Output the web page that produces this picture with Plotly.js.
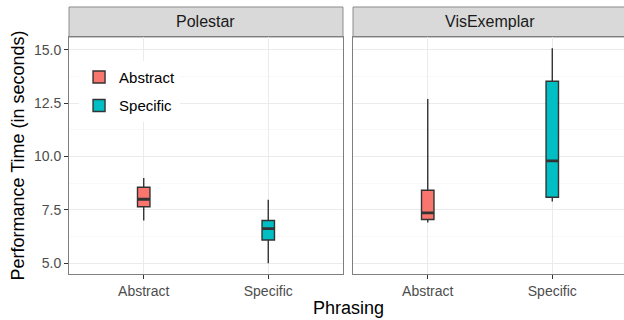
<!DOCTYPE html>
<html><head><meta charset="utf-8">
<script src="https://cdn.plot.ly/plotly-3.0.1.min.js"></script>
<style>html,body{margin:0;padding:0;background:#fff;overflow:hidden}</style>
</head><body>
<div id="chart" style="width:628px;height:320px"></div>
<script>
const panels = ['Polestar', 'VisExemplar'];
const phrasings = ['Abstract', 'Specific'];
const fillColors = ['#F8766D', '#00BFC4'];

// Polestar: [Abstract, Specific]
const polestarLow    = [7.00, 5.00];
const polestarQ1     = [7.65, 6.09];
const polestarMedian = [8.00, 6.62];
const polestarQ3     = [8.56, 7.00];
const polestarHigh   = [9.00, 7.97];

// VisExemplar: [Abstract, Specific]
const visLow    = [6.91, 7.89];
const visQ1     = [7.05, 8.09];
const visMedian = [7.36, 9.80];
const visQ3     = [8.42, 13.53];
const visHigh   = [12.70, 15.08];

const yTicks = [5.0, 7.5, 10.0, 12.5, 15.0];

const panelData = [
  {low: polestarLow, q1: polestarQ1, med: polestarMedian, q3: polestarQ3, high: polestarHigh},
  {low: visLow, q1: visQ1, med: visMedian, q3: visQ3, high: visHigh}
];

const traces = [];
panelData.forEach((d, p) => {
  const xa = p === 0 ? 'x' : 'x2';
  const ya = p === 0 ? 'y' : 'y2';
  phrasings.forEach((ph, i) => {
    traces.push({
      type: 'box', name: ph, legendgroup: ph, showlegend: p === 0,
      x: [ph], q1: [d.q1[i]], median: [d.med[i]], q3: [d.q3[i]],
      lowerfence: [d.low[i]], upperfence: [d.high[i]],
      xaxis: xa, yaxis: ya, width: 0.1, whiskerwidth: 0,
      fillcolor: fillColors[i], line: {color: '#333333', width: 1.4},
      hoverinfo: 'y'
    });
    // thick median line (ggplot fatten)
    traces.push({
      type: 'box', name: ph, legendgroup: ph, showlegend: false,
      x: [ph], q1: [d.med[i]], median: [d.med[i]], q3: [d.med[i]],
      lowerfence: [d.med[i]], upperfence: [d.med[i]],
      xaxis: xa, yaxis: ya, width: 0.1, whiskerwidth: 0,
      fillcolor: 'rgba(0,0,0,0)', line: {color: '#333333', width: 2.8},
      hoverinfo: 'skip'
    });
  });
});

const font = {family: '"Liberation Sans", Arial, sans-serif'};
const xCommon = {
  type: 'category', categoryorder: 'array', categoryarray: phrasings,
  range: [-0.6, 1.6], showgrid: true, gridcolor: '#EBEBEB', gridwidth: 1,
  zeroline: false, showline: true, linecolor: '#7F7F7F', linewidth: 1, mirror: true,
  ticks: 'outside', ticklen: 4, tickcolor: '#333333', tickwidth: 1,
  tickfont: {family: font.family, size: 14, color: '#4D4D4D'}, fixedrange: true
};
const yCommon = {
  range: [4.495, 15.605], tickvals: yTicks, tickformat: '.1f',
  showgrid: true, gridcolor: '#EBEBEB', gridwidth: 1,
  minor: {dtick: 1.25, tick0: 5, showgrid: true, gridcolor: '#F3F3F3', gridwidth: 0.6, ticks: ''},
  zeroline: false, showline: true, linecolor: '#7F7F7F', linewidth: 1, mirror: true,
  ticks: 'outside', ticklen: 4, tickcolor: '#333333', tickwidth: 1,
  tickfont: {family: font.family, size: 14, color: '#4D4D4D'}, fixedrange: true
};

const dom1 = [0, 0.491];
const dom2 = [0.509, 1];
const stripTop = 1.1266;

const layout = {
  width: 628, height: 320,
  margin: {l: 69, r: 1, t: 37, b: 46},
  paper_bgcolor: '#ffffff', plot_bgcolor: '#ffffff',
  font: font,
  boxmode: 'overlay',
  showlegend: true,
  legend: {
    x: 0.018, y: 0.9, xanchor: 'left', yanchor: 'top',
    bgcolor: 'rgba(255,255,255,1)', borderwidth: 0,
    font: {family: font.family, size: 15, color: '#000000'},
    tracegroupgap: 6, itemwidth: 30
  },
  xaxis: Object.assign({}, xCommon, {domain: dom1, anchor: 'y'}),
  xaxis2: Object.assign({}, xCommon, {domain: dom2, anchor: 'y2'}),
  yaxis: Object.assign({}, yCommon, {
    domain: [0, 1], anchor: 'x',
    title: {text: 'Performance Time (in seconds)', font: {family: font.family, size: 18, color: '#000000'}, standoff: 4}
  }),
  yaxis2: Object.assign({}, yCommon, {domain: [0, 1], anchor: 'x2', matches: 'y', showticklabels: false, ticks: ''}),
  shapes: [
    {type: 'rect', xref: 'paper', yref: 'paper', x0: dom1[0], x1: dom1[1], y0: 1, y1: stripTop,
     fillcolor: '#D9D9D9', line: {color: '#8C8C8C', width: 1}, layer: 'below'},
    {type: 'rect', xref: 'paper', yref: 'paper', x0: dom2[0], x1: dom2[1], y0: 1, y1: stripTop,
     fillcolor: '#D9D9D9', line: {color: '#8C8C8C', width: 1}, layer: 'below'}
  ],
  annotations: [
    {text: panels[0], xref: 'paper', yref: 'paper', x: (dom1[0] + dom1[1]) / 2, y: (1 + stripTop) / 2,
     showarrow: false, font: {family: font.family, size: 16, color: '#1A1A1A'}, xanchor: 'center', yanchor: 'middle'},
    {text: panels[1], xref: 'paper', yref: 'paper', x: (dom2[0] + dom2[1]) / 2, y: (1 + stripTop) / 2,
     showarrow: false, font: {family: font.family, size: 16, color: '#1A1A1A'}, xanchor: 'center', yanchor: 'middle'},
    {text: 'Phrasing', xref: 'paper', yref: 'paper', x: 0.5, y: -0.1435,
     showarrow: false, font: {family: font.family, size: 18, color: '#000000'}, xanchor: 'center', yanchor: 'middle'}
  ]
};

Plotly.newPlot('chart', traces, layout, {displayModeBar: false, staticPlot: true});
</script>
</body></html>
